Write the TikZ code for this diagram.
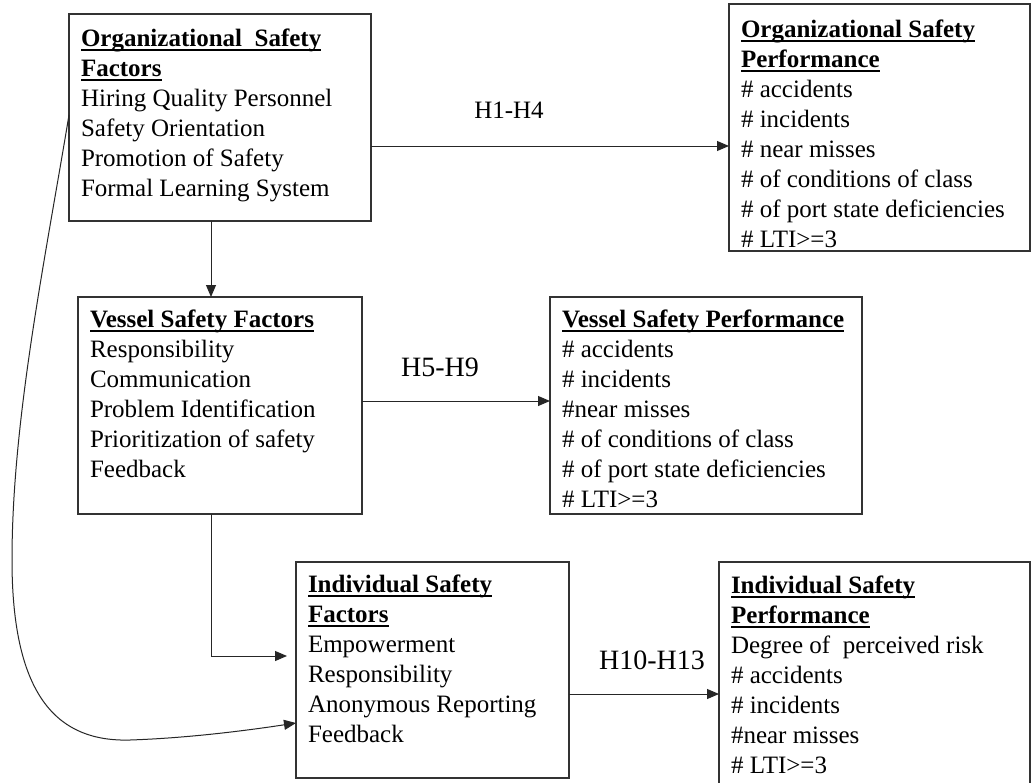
\documentclass[tikz,border=0pt]{standalone}
\usepackage{fontspec}
\setmainfont{Liberation Serif}
\usetikzlibrary{arrows.meta}
\newcommand{\ulhead}[1]{\setbox0\hbox{\bfseries #1}\rlap{\rule[-5pt]{\wd0}{2.3pt}}\box0}
\tikzset{
  box/.style={draw=black!80, line width=1.2pt, rectangle, anchor=north west, inner sep=0pt, outer sep=0pt},
  txt/.style={anchor=base west, inner sep=0pt, outer sep=0pt, font=\fontsize{25}{30}\selectfont},
  hlab/.style={anchor=base, inner sep=0pt, font=\fontsize{25}{30}\selectfont},
  hlabbig/.style={anchor=base, inner sep=0pt, font=\fontsize{28}{32}\selectfont},
  arr/.style={draw=black!85, line width=1pt, -{Triangle[length=12pt,width=10pt]}},
}
\begin{document}
\begin{tikzpicture}[x=1pt,y=-1pt]
\useasboundingbox (0,0) rectangle (1031,782);
\clip (0,0) rectangle (1031,782);
\fill[white] (0,0) rectangle (1031,782);

% boxes
\node[box, minimum width=302pt, minimum height=207pt] (osf) at (69,14) {};
\node[box, minimum width=301pt, minimum height=247pt] (osp) at (729,4) {};
\node[box, minimum width=284pt, minimum height=217pt] (vsf) at (78,297) {};
\node[box, minimum width=312pt, minimum height=217pt] (vsp) at (550,297) {};
\node[box, minimum width=273pt, minimum height=216pt] (isf) at (296,562) {};
\node[box, minimum width=311pt, minimum height=230pt] (isp) at (719,562) {};

% texts
\node[txt] (osf-t) at (81,46) {\vtop{\hbox{\ulhead{Organizational\ \ Safety}}\hbox{\ulhead{Factors}}\hbox{Hiring Quality Personnel}\hbox{Safety Orientation}\hbox{Promotion of Safety}\hbox{Formal Learning System}}};
\node[txt] (osp-t) at (741,37) {\vtop{\hbox{\ulhead{Organizational Safety}}\hbox{\ulhead{Performance}}\hbox{\# accidents}\hbox{\# incidents}\hbox{\# near misses}\hbox{\# of conditions of class}\hbox{\# of port state deficiencies}\hbox{\# LTI>=3}}};
\node[txt] (vsf-t) at (90,327) {\vtop{\hbox{\ulhead{Vessel Safety Factors}}\hbox{Responsibility}\hbox{Communication}\hbox{Problem Identification}\hbox{Prioritization of safety}\hbox{Feedback}}};
\node[txt] (vsp-t) at (562,327) {\vtop{\hbox{\ulhead{Vessel Safety Performance}}\hbox{\# accidents}\hbox{\# incidents}\hbox{\#near misses}\hbox{\# of conditions of class}\hbox{\# of port state deficiencies}\hbox{\# LTI>=3}}};
\node[txt] (isf-t) at (308,592) {\vtop{\hbox{\ulhead{Individual Safety}}\hbox{\ulhead{Factors}}\hbox{Empowerment}\hbox{Responsibility}\hbox{Anonymous Reporting}\hbox{Feedback}}};
\node[txt] (isp-t) at (731,593) {\vtop{\hbox{\ulhead{Individual Safety}}\hbox{\ulhead{Performance}}\hbox{Degree of\ \ perceived risk}\hbox{\# accidents}\hbox{\# incidents}\hbox{\#near misses}\hbox{\# LTI>=3}}};

% labels
\node[hlab] (h1) at (509,118) {H1-H4};
\node[hlabbig] (h5) at (440,376) {H5-H9};
\node[hlabbig] (h10) at (652,669) {H10-H13};

% connectors
\coordinate (h1s) at ([yshift=-28.5pt]osf.east);
\draw[arr] (h1s) -- (h1s -| osp.west);
\coordinate (h5s) at ([yshift=4.5pt]vsf.east);
\draw[arr] (h5s) -- (h5s -| vsp.west);
\coordinate (h10s) at ([yshift=-24pt]isf.east);
\draw[arr] (h10s) -- (h10s -| isp.west);

\draw[arr] ([xshift=-9pt]osf.south) -- ([xshift=-9pt]vsf.north);
\coordinate (t2) at (287,656);
\draw[arr] ([xshift=-9pt]vsf.south) |- (t2);

\coordinate (cs) at ([yshift=2.5pt]osf.west);
\coordinate (ce) at ([yshift=-53pt]isf.west);
\draw[arr] (cs) .. controls (45,260) and (12,420) .. (12,560)
  .. controls (12,700) and (60,742) .. (130,740)
  .. controls (190,738) and (250,730) .. (ce);
\end{tikzpicture}
\end{document}
